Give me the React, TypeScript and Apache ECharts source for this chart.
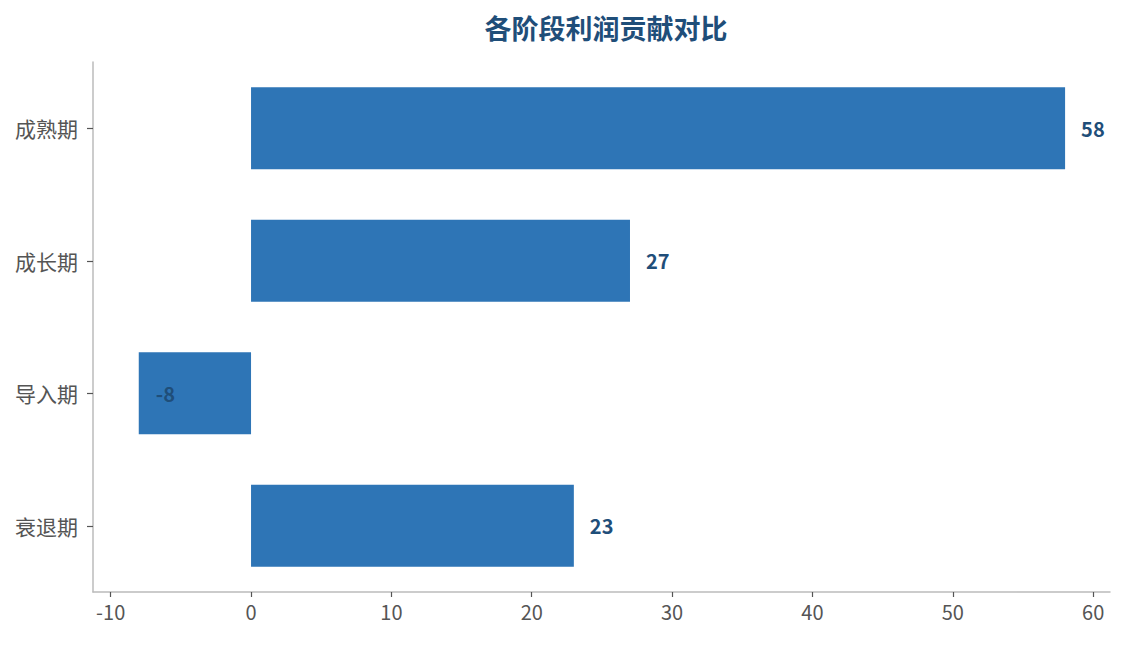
import React, { useEffect, useRef } from 'react'
import * as echarts from 'echarts'

// 数据：从下到上的阶段顺序
const stages = ['衰退期', '导入期', '成长期', '成熟期']
const profits = [23, -8, 27, 58]
const tickValues = [-10, 0, 10, 20, 30, 40, 50, 60]

const titleText = '各阶段利润贡献对比'
const barColor = '#2e75b6'
const darkBlue = '#1f4e79'
const font = '"Noto Sans CJK SC", "Noto Sans", sans-serif'

export default function App() {
  const chartRef = useRef<HTMLDivElement>(null)

  useEffect(() => {
    if (!chartRef.current) return
    const chart = echarts.init(chartRef.current, undefined, { renderer: 'svg' })

    // 负值的标签放在柱子内部左侧
    const barData = profits.map(v =>
      v < 0
        ? { value: v, label: { position: 'insideLeft', distance: 17 } }
        : v
    )

    const option = {
      animation: false,
      textStyle: { fontFamily: font },
      title: {
        text: titleText,
        left: 601,
        top: 9,
        textAlign: 'center',
        textStyle: {
          color: darkBlue,
          fontSize: 27,
          fontWeight: 'bold',
          fontFamily: font,
        },
      },
      grid: { left: 93, right: 15, top: 62, bottom: 53, containLabel: false },
      xAxis: {
        type: 'value',
        min: -11.26,
        max: 61.2,
        splitLine: { show: false },
        axisLine: { show: true, onZero: false, lineStyle: { color: '#bbbbbb', width: 1.5 } },
        axisTick: {
          show: true,
          length: 5,
          customValues: tickValues,
          lineStyle: { color: '#555555', width: 1.2 },
        },
        axisLabel: {
          customValues: tickValues,
          color: '#555555',
          fontSize: 20,
          margin: 9,
          fontFamily: font,
        },
      },
      yAxis: {
        type: 'category',
        data: stages,
        axisLine: { show: true, onZero: false, lineStyle: { color: '#bbbbbb', width: 1.5 } },
        axisTick: { show: true, alignWithLabel: true, length: 6, lineStyle: { color: '#555555', width: 1.2 } },
        axisLabel: { color: '#555555', fontSize: 21, margin: 15, fontFamily: font },
        splitLine: { show: false },
      },
      series: [
        {
          type: 'bar',
          data: barData,
          barCategoryGap: '38%',
          itemStyle: { color: barColor },
          label: {
            show: true,
            position: 'right',
            distance: 16,
            color: darkBlue,
            fontSize: 20,
            fontWeight: 'bold',
            fontFamily: font,
          },
        },
      ],
    }

    chart.setOption(option)
    return () => chart.dispose()
  }, [])

  return (
    <div
      ref={chartRef}
      style={{ position: 'absolute', left: 0, top: 0, width: '1125px', height: '645px' }}
    />
  )
}
